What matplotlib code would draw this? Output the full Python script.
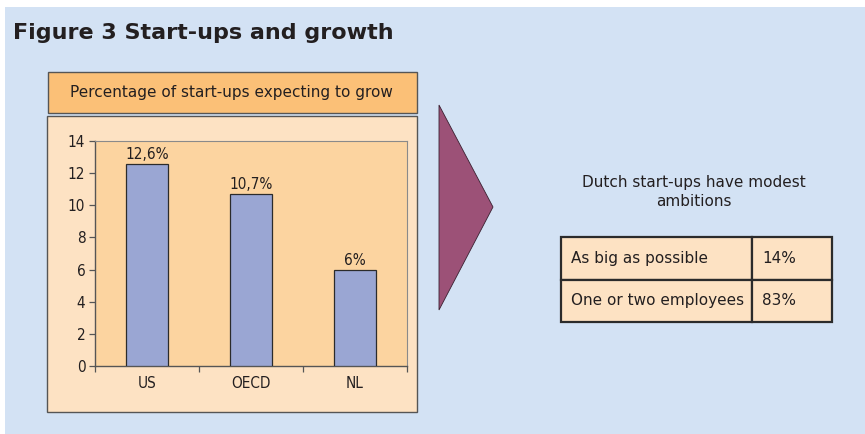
import matplotlib
matplotlib.use("Agg")
import matplotlib.pyplot as plt
from matplotlib.patches import Polygon, Rectangle

W, H = 865, 434

BG_BLUE = "#d3e2f4"
HEADER_FILL = "#fbc077"
PANEL_FILL = "#fde2c3"
PLOT_FILL = "#fcd4a0"
BAR_FILL = "#9aa6d3"
EDGE = "#2b2b2b"
ARROW = "#9c5177"
TEXT = "#231f20"

NARROW = dict(family="DejaVu Sans", stretch="condensed")

countries = ["US", "OECD", "NL"]
growth_pct = [12.6, 10.7, 6.0]
y_ticks = [0, 2, 4, 6, 8, 10, 12, 14]

ambition_labels = ["As big as possible", "One or two employees"]
ambition_pct = [14, 83]


def rect(x0, y0, x1, y1):
    """pixel box (top-left origin) -> figure fraction rect"""
    return (x0 / W, 1 - y1 / H, (x1 - x0) / W, (y1 - y0) / H)


def pct_label(v):
    s = f"{v:.1f}".rstrip("0").rstrip(".")
    return s.replace(".", ",") + "%"


fig = plt.figure(figsize=(W / 100, H / 100), dpi=100, facecolor="white")

# canvas in pixel coords for the boxes, arrow and table
bg = fig.add_axes((0, 0, 1, 1))
bg.set_xlim(0, W)
bg.set_ylim(H, 0)
bg.set_axis_off()
bg.add_patch(Rectangle((5, 7), W - 5, H - 7, facecolor=BG_BLUE, edgecolor="none"))

bg.text(13, 33, "Figure 3 Start-ups and growth", ha="left", va="center",
        fontsize=16, fontweight="bold", color=TEXT)

# header band + chart panel
bg.add_patch(Rectangle((48, 72), 369, 41, facecolor=HEADER_FILL,
                       edgecolor="#555555", linewidth=1.0))
bg.text(231, 93, "Percentage of start-ups expecting to grow", ha="center",
        va="center", fontsize=11, color=TEXT)
bg.add_patch(Rectangle((47, 116), 370, 296, facecolor=PANEL_FILL,
                       edgecolor="#555555", linewidth=1.0))

# arrow
bg.add_patch(Polygon([(439, 105), (493, 207), (439, 310)], closed=True,
                     facecolor=ARROW, edgecolor="#3a2030", linewidth=0.6))

# ambitions caption + table
bg.text(694, 192, "Dutch start-ups have modest\nambitions", ha="center",
        va="center", fontsize=11, color=TEXT, linespacing=1.35)

tx0, tx1, tdiv = 561, 832, 752
ty0, row_h = 237, 42.5
for i, (lab, val) in enumerate(zip(ambition_labels, ambition_pct)):
    y = ty0 + i * row_h
    bg.add_patch(Rectangle((tx0, y), tdiv - tx0, row_h, facecolor=PANEL_FILL,
                           edgecolor=EDGE, linewidth=1.6))
    bg.add_patch(Rectangle((tdiv, y), tx1 - tdiv, row_h, facecolor=PANEL_FILL,
                           edgecolor=EDGE, linewidth=1.6))
    bg.text(tx0 + 10, y + row_h / 2, lab, ha="left", va="center",
            fontsize=11, color=TEXT)
    bg.text(tdiv + 10, y + row_h / 2, f"{val}%", ha="left", va="center",
            fontsize=11, color=TEXT)

# bar chart
ax = fig.add_axes(rect(95, 141, 407, 366), facecolor=PLOT_FILL)
x = range(len(countries))
bars = ax.bar(x, growth_pct, width=0.4, color=BAR_FILL, edgecolor=EDGE,
              linewidth=0.9, zorder=3)
for b, v in zip(bars, growth_pct):
    ax.text(b.get_x() + b.get_width() / 2, v + 0.12, pct_label(v),
            ha="center", va="bottom", fontsize=11, color=TEXT, **NARROW)

ax.set_xlim(-0.5, len(countries) - 0.5)
ax.set_ylim(0, 14)
ax.set_yticks(y_ticks)
ax.set_yticklabels([str(t) for t in y_ticks], fontsize=11, color=TEXT,
                   **NARROW)
ax.set_xticks([i - 0.5 for i in range(len(countries) + 1)])
ax.set_xticklabels([])
ax.set_xticks(list(x), minor=True)
ax.set_xticklabels(countries, minor=True, fontsize=11, color=TEXT, **NARROW)
ax.tick_params(axis="x", which="major", direction="out", length=4,
               color="#555555", width=0.9)
ax.tick_params(axis="x", which="minor", length=0, pad=7)
ax.tick_params(axis="y", direction="out", length=4, color="#555555",
               width=0.9, pad=3)
for side in ("left", "bottom"):
    ax.spines[side].set_color("#555555")
    ax.spines[side].set_linewidth(1.0)
for side in ("top", "right"):
    ax.spines[side].set_color("#8a8a8a")
    ax.spines[side].set_linewidth(0.8)

fig.savefig("out.png", dpi=100, facecolor="white")
